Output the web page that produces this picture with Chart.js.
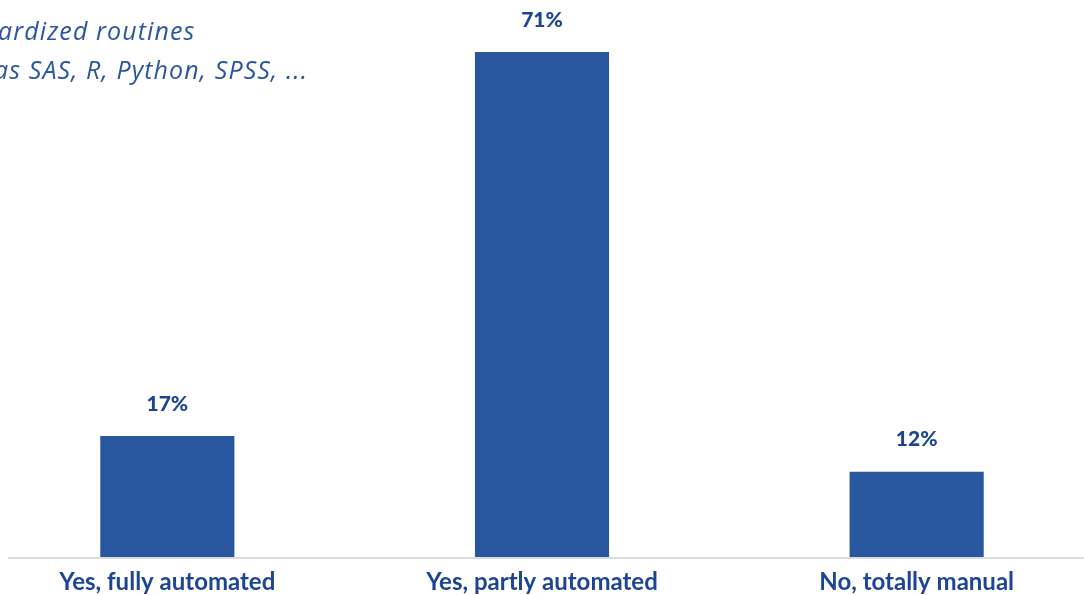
<!DOCTYPE html>
<html>
<head>
<meta charset="utf-8">
<script src="https://cdn.jsdelivr.net/npm/chart.js@4"></script>
<style>
  html, body { margin: 0; padding: 0; background: #fff; overflow: hidden; }
  body { width: 1084px; height: 595px; position: relative; }
  #wrap { position: absolute; left: -20px; top: 0; width: 1124px; height: 595px; }
  .note { position: absolute; font-family: "Open Sans", Lato, sans-serif; font-style: italic;
          font-size: 25px; letter-spacing: 1.1px; color: #2a56a0; white-space: nowrap; }
</style>
</head>
<body>
<div id="wrap"><canvas id="routines-graph"></canvas></div>
<div class="note" style="left:-2px; top:13px;">ardized routines</div>
<div class="note" style="left:-6px; top:52px;">as SAS, R, Python, SPSS, ...</div>
<script>
const CTX = document.getElementById('routines-graph');

const answers = ['Yes, fully automated', 'Yes, partly automated', 'No, totally manual'];
const shares = [17, 71, 12];

const BLUE = '#2857a0';
const DARK = '#1d4592';

// percent labels above each bar + light baseline
const extras = {
  id: 'extras',
  afterDatasetsDraw(chart) {
    const c = chart.ctx;
    const area = chart.chartArea;
    c.save();
    c.strokeStyle = '#dcdcdc';
    c.lineWidth = 2;
    c.beginPath();
    c.moveTo(28, area.bottom + 1);
    c.lineTo(area.right, area.bottom + 1);
    c.stroke();

    c.fillStyle = DARK;
    c.font = '900 21px Lato, "Open Sans", sans-serif';
    c.textAlign = 'center';
    c.textBaseline = 'middle';
    chart.getDatasetMeta(0).data.forEach((bar, i) => {
      c.fillText(shares[i] + '%', bar.x, bar.y - 32);
    });
    c.restore();
  }
};

new Chart(CTX, {
  type: 'bar',
  data: {
    labels: answers,
    datasets: [{
      data: shares,
      backgroundColor: BLUE,
      borderWidth: 0,
      categoryPercentage: 1,
      barPercentage: 0.358
    }]
  },
  options: {
    responsive: true,
    maintainAspectRatio: false,
    animation: false,
    layout: { padding: 0 },
    plugins: { legend: { display: false }, tooltip: { enabled: false } },
    scales: {
      x: {
        grid: { display: false },
        border: { display: false },
        ticks: {
          color: DARK,
          padding: 3,
          font: { family: 'Lato, "Open Sans", sans-serif', size: 24, weight: 'bold' }
        },
        afterFit(scale) { scale.height = 38; }
      },
      y: {
        display: false,
        min: 0,
        max: 78.3
      }
    }
  },
  plugins: [extras]
});
</script>
</body>
</html>
